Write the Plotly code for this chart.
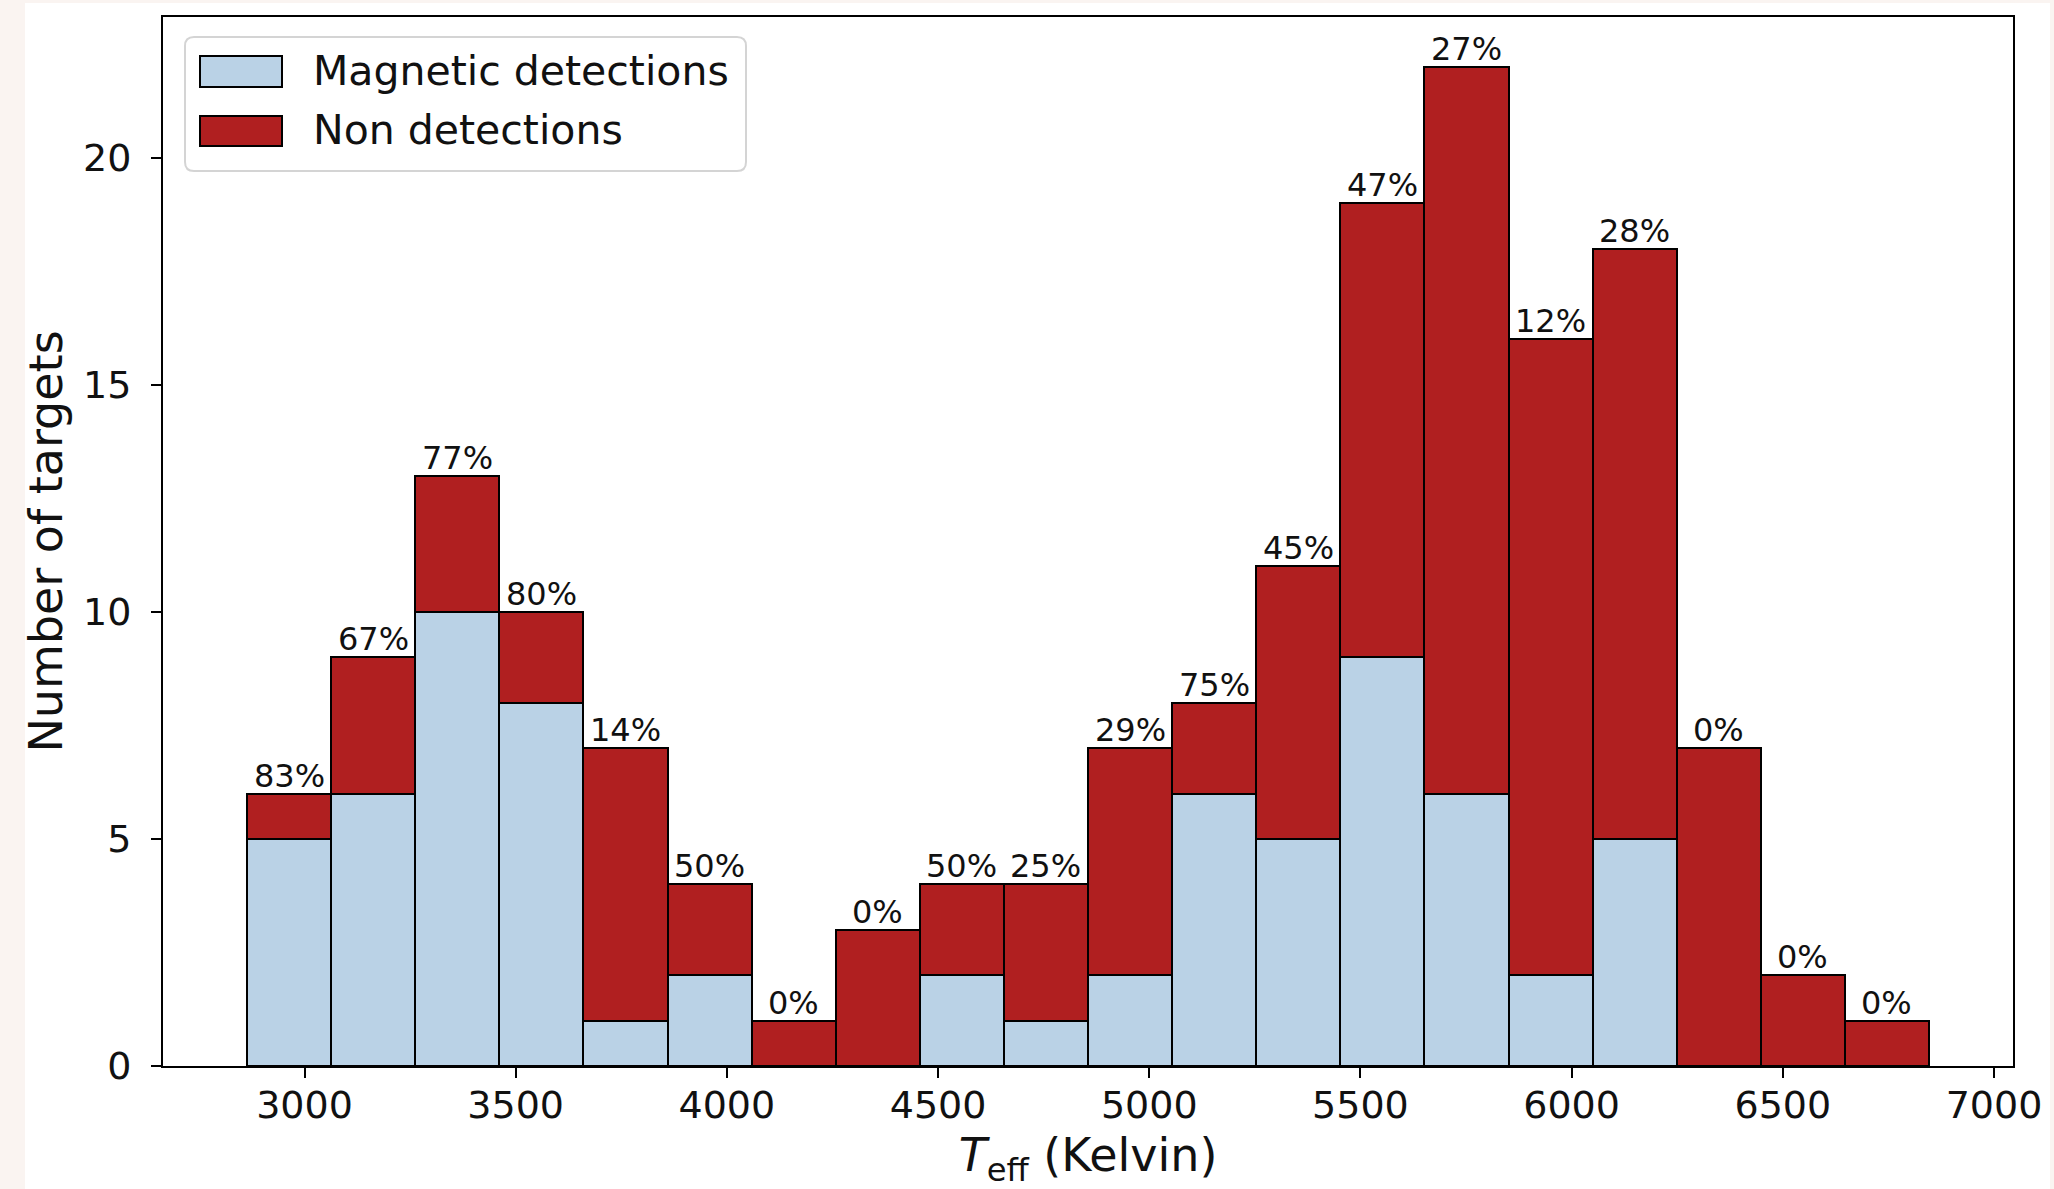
import plotly.graph_objects as go

# Histogram of effective temperatures, split into magnetic detections and non detections
bin_edges = [2864, 3063, 3262, 3461, 3660, 3860, 4059, 4258, 4457, 4656, 4855,
             5054, 5253, 5452, 5651, 5851, 6050, 6249, 6448, 6647, 6846]
magnetic = [5, 6, 10, 8, 1, 2, 0, 0, 2, 1, 2, 6, 5, 9, 6, 2, 5, 0, 0, 0]
non_detect = [1, 3, 3, 2, 6, 2, 1, 3, 2, 3, 5, 2, 6, 10, 16, 14, 13, 7, 2, 1]

x_ticks = [3000, 3500, 4000, 4500, 5000, 5500, 6000, 6500, 7000]
y_ticks = [0, 5, 10, 15, 20]

centers = [(a + b) / 2 for a, b in zip(bin_edges[:-1], bin_edges[1:])]
widths = [b - a for a, b in zip(bin_edges[:-1], bin_edges[1:])]
totals = [m + n for m, n in zip(magnetic, non_detect)]
percent = [f"{100 * m / t:.0f}%" for m, t in zip(magnetic, totals)]

W, H = 2054, 1189
L, R, T, B = 163, 2013, 17, 1066  # plot area in pixels

FONT = "DejaVu Sans"
BLUE = "#bad2e6"
RED = "#b01f20"
INK = "#111111"


def px(xp):
    return (xp - L) / (R - L)


def py(yp):
    return (B - yp) / (B - T)


fig = go.Figure()
fig.add_trace(go.Bar(
    x=centers, y=magnetic, width=widths, name="Magnetic detections",
    marker=dict(color=BLUE, line=dict(color="black", width=2)),
    showlegend=False,
))
fig.add_trace(go.Bar(
    x=centers, y=non_detect, width=widths, name="Non detections",
    marker=dict(color=RED, line=dict(color="black", width=2)),
    showlegend=False,
))

annotations = []
for c, t, p in zip(centers, totals, percent):
    annotations.append(dict(
        x=c, y=t, xref="x", yref="y", text=p, showarrow=False,
        yanchor="bottom", xanchor="center", yshift=-3,
        font=dict(family=FONT, size=32, color=INK),
    ))

shapes = [
    # white page area behind the axes
    dict(type="rect", xref="paper", yref="paper", layer="below",
         x0=px(25), x1=px(2050), y0=py(1189), y1=py(3),
         fillcolor="white", line=dict(width=0)),
]

# legend box with rounded corners
lx0, lx1, ly0, ly1, r = 185, 746, 37, 171, 9
path = (f"M {px(lx0 + r)},{py(ly0)} L {px(lx1 - r)},{py(ly0)} "
        f"Q {px(lx1)},{py(ly0)} {px(lx1)},{py(ly0 + r)} "
        f"L {px(lx1)},{py(ly1 - r)} Q {px(lx1)},{py(ly1)} {px(lx1 - r)},{py(ly1)} "
        f"L {px(lx0 + r)},{py(ly1)} Q {px(lx0)},{py(ly1)} {px(lx0)},{py(ly1 - r)} "
        f"L {px(lx0)},{py(ly0 + r)} Q {px(lx0)},{py(ly0)} {px(lx0 + r)},{py(ly0)} Z")
shapes.append(dict(type="path", xref="paper", yref="paper", path=path,
                   fillcolor="rgba(255,255,255,0.8)",
                   line=dict(color="#d4d4d4", width=2)))

legend_items = [("Magnetic detections", BLUE, 56, 87),
                ("Non detections", RED, 116, 146)]
for label, color, top, bot in legend_items:
    shapes.append(dict(type="rect", xref="paper", yref="paper",
                       x0=px(200), x1=px(282), y0=py(bot), y1=py(top),
                       fillcolor=color, line=dict(color="black", width=2)))
    annotations.append(dict(x=px(311), y=py((top + bot) / 2 - 1), xref="paper", yref="paper",
                            text=label, showarrow=False, xanchor="left", yanchor="middle",
                            font=dict(family=FONT, size=41, color=INK)))

axis_common = dict(
    showline=True, linecolor="black", linewidth=2, mirror=True,
    ticks="outside", ticklen=10, tickwidth=2, tickcolor="black",
    showgrid=False, zeroline=False,
    tickfont=dict(family=FONT, size=38, color=INK),
)

fig.update_layout(
    width=W, height=H,
    margin=dict(l=L, r=W - R, t=T, b=H - B, autoexpand=False),
    paper_bgcolor="#faf4f1", plot_bgcolor="white",
    barmode="stack",
    font=dict(family=FONT, color=INK),
    xaxis=dict(range=[2665, 7045], tickvals=x_ticks, ticklabelstandoff=-6,
               title=dict(text="<i>T</i><sub>eff</sub> (Kelvin)", standoff=31,
                          font=dict(family=FONT, size=46, color=INK)),
               **axis_common),
    yaxis=dict(range=[0, 23.1], tickvals=y_ticks, ticklabelstandoff=12,
               title=dict(text="Number of targets", standoff=6,
                          font=dict(family=FONT, size=46, color=INK)),
               **axis_common),
    shapes=shapes,
    annotations=annotations,
)

fig.write_html("out.html")
